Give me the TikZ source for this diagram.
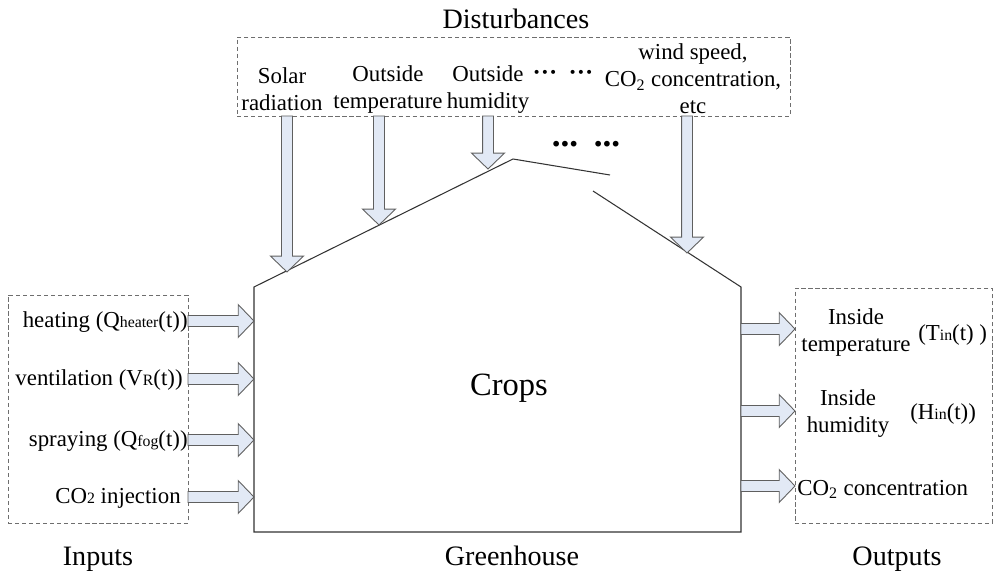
\documentclass[tikz,border=0pt]{standalone}
\usepackage{fontspec}
\setmainfont{Liberation Serif}
\usetikzlibrary{calc,fit}
\definecolor{arrowfill}{RGB}{226,233,245}
\definecolor{arrowline}{RGB}{95,95,95}
\definecolor{dashcol}{RGB}{110,110,110}
\newcommand{\sm}[1]{{\fontsize{9}{10}\selectfont #1}}
\newcommand{\blockarrow}[2]{%
  \coordinate (bah) at ($(#2)!9pt!(#1)$);
  \draw[barrow] ($(#1)!3.1pt!90:(#2)$) -- ($(bah)!3.1pt!90:(#2)$) -- ($(bah)!9.35pt!90:(#2)$) -- (#2)
    -- ($(bah)!9.35pt!-90:(#2)$) -- ($(bah)!3.1pt!-90:(#2)$) -- ($(#1)!3.1pt!-90:(#2)$) -- cycle;}
\begin{document}
\begin{tikzpicture}[x=0.02cm,y=-0.02cm,
  barrow/.style={fill=arrowfill,draw=arrowline,line width=0.5pt,line join=miter},
  dbox/.style={draw=dashcol,dash pattern=on 2.4pt off 1.6pt,line width=0.5pt,inner sep=0pt},
  house/.style={draw=black!80,line width=0.6pt},
  lbl/.style={font=\fontsize{13}{15.3}\selectfont,inner sep=0pt,align=center},
  ttl/.style={font=\fontsize{16}{19}\selectfont,inner sep=0pt,anchor=base}]
\useasboundingbox (0,0) rectangle (1000,574);
% boxes
\node[dbox,fit={(237,37) (790,116)}] (dist) {};
\node[dbox,fit={(8,295) (188,523)}] (inbox) {};
\node[dbox,fit={(795,288) (992,523)}] (outbox) {};
% greenhouse
\coordinate (bl) at (254,532);
\coordinate (wl) at (254,287);
\coordinate (apex) at (513,159);
\coordinate (r1) at (610,175);
\coordinate (r2) at (593,191);
\coordinate (wr) at (741,287);
\coordinate (br) at (741,532);
\draw[house] (r2) -- (wr) -- (br) -- (bl) -- (wl) -- (apex) -- (r1);
% titles
\node[ttl] (tdist) at (516,29) {Disturbances};
\node[ttl] (tin) at (98,565) {Inputs};
\node[ttl] (tgh) at (512,565) {Greenhouse};
\node[ttl] (tout) at (897,565) {Outputs};
\node[font=\fontsize{18.5}{22}\selectfont,inner sep=0pt,anchor=base] (crops) at (509,395) {Crops};
% disturbances
\node[lbl] (d1) at (282,89.5) {Solar\\radiation};
\node[lbl] (d2) at (388,89.5) {Outside\\temperature};
\node[lbl] (d3) at (488,89.5) {Outside\\humidity};
\node[lbl,anchor=base,font=\fontsize{14}{15}\selectfont\bfseries] (dd1) at (545,81) {\char"00B7\char"00B7\char"00B7};
\node[lbl,anchor=base,font=\fontsize{14}{15}\selectfont\bfseries] (dd2) at (581,81) {\char"00B7\char"00B7\char"00B7};
\node[lbl] (d4) at (693,79) {wind speed,\\CO\textsubscript{2} concentration,\\etc};
\node[font=\fontsize{20}{22}\selectfont\bfseries,inner sep=0pt,anchor=base] (gd1) at (565,147) {...};
\node[font=\fontsize{20}{22}\selectfont\bfseries,inner sep=0pt,anchor=base] (gd2) at (607,147) {...};
% disturbance arrows
\coordinate (ds1) at (287,116); \coordinate (dt1) at (287,272);
\coordinate (ds2) at (379,116); \coordinate (dt2) at (379,225);
\coordinate (ds3) at (488,116); \coordinate (dt3) at (488,169);
\coordinate (ds4) at (687,116); \coordinate (dt4) at (687,253);
\blockarrow{ds1}{dt1}
\blockarrow{ds2}{dt2}
\blockarrow{ds3}{dt3}
\blockarrow{ds4}{dt4}
% inputs
\node[lbl,anchor=base east] (i1) at (188,327) {heating (Q\sm{heater}(t))};
\node[lbl,anchor=base east] (i2) at (183,385) {ventilation (V\sm{R}(t))};
\node[lbl,anchor=base east] (i3) at (188,446) {spraying (Q\sm{fog}(t))};
\node[lbl,anchor=base east] (i4) at (181,503) {CO\sm{2} injection};
\coordinate (is1) at (188,321); \coordinate (it1) at (254,321);
\coordinate (is2) at (188,379); \coordinate (it2) at (254,379);
\coordinate (is3) at (188,440); \coordinate (it3) at (254,440);
\coordinate (is4) at (188,497); \coordinate (it4) at (254,497);
\blockarrow{is1}{it1}
\blockarrow{is2}{it2}
\blockarrow{is3}{it3}
\blockarrow{is4}{it4}
% outputs
\node[lbl] (o1) at (856,332.5) {Inside\\temperature};
\node[lbl,anchor=base west] (o1b) at (918,340) {(T\sm{in}(t) )};
\node[lbl] (o2) at (848,413.5) {Inside\\humidity};
\node[lbl,anchor=base west] (o2b) at (910,419) {(H\sm{in}(t))};
\node[lbl,anchor=base west] (o3) at (797,495) {CO\textsubscript{2} concentration};
\coordinate (os1) at (741,329); \coordinate (ot1) at (795,329);
\coordinate (os2) at (741,411); \coordinate (ot2) at (795,411);
\coordinate (os3) at (741,486); \coordinate (ot3) at (795,486);
\blockarrow{os1}{ot1}
\blockarrow{os2}{ot2}
\blockarrow{os3}{ot3}
\end{tikzpicture}
\end{document}
